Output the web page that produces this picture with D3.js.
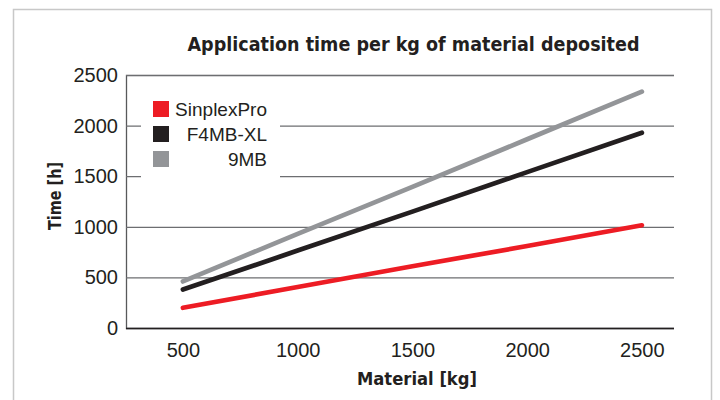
<!DOCTYPE html>
<html>
<head>
<meta charset="utf-8">
<script src="https://cdn.jsdelivr.net/npm/d3@7"></script>
<style>
	body { margin: 0; background: #fff; }
	text { font-family: "Liberation Sans", Arial, sans-serif; fill: #231f20; }
	text.heading { font-family: "DejaVu Sans", sans-serif; font-weight: bold; }
</style>
</head>
<body>
<script>
var width = 720;
var height = 400;

// data
var material = [500, 1000, 1500, 2000, 2500];
var sinplexPro = [200, 405, 610, 810, 1015];
var f4mbXl = [380, 765, 1150, 1540, 1930];
var nineMb = [460, 930, 1395, 1865, 2335];
var seriesNames = ["SinplexPro", "F4MB-XL", "9MB"];
var seriesColors = ["#ed1c24", "#231f20", "#939598"];
var xTicks = [500, 1000, 1500, 2000, 2500];
var yTicks = [0, 500, 1000, 1500, 2000, 2500];

var plot = { left: 126, right: 674, top: 75, bottom: 328 };

var x = d3.scaleLinear().domain([252, 2640]).range([plot.left, plot.right]);
var y = d3.scaleLinear().domain([0, 2500]).range([plot.bottom, plot.top]);

var svg = d3.select("body").append("svg")
	.attr("width", width).attr("height", height);

// outer frame
svg.append("rect").attr("x", 13.5).attr("y", 9.5)
	.attr("width", 698).attr("height", 400)
	.attr("fill", "none").attr("stroke", "#c8c8c8").attr("stroke-width", 1.5);

function heading(txt, size, len) {
	return svg.append("text").attr("class", "heading")
		.attr("text-anchor", "middle")
		.attr("font-size", size)
		.attr("textLength", len)
		.attr("lengthAdjust", "spacingAndGlyphs")
		.text(txt);
}

heading("Application time per kg of material deposited", 19.5, 452)
	.attr("x", 413.5).attr("y", 50.5);

// y axis with gridlines
var yAxis = d3.axisLeft(y).tickValues(yTicks).tickFormat(d3.format("d"))
	.tickSize(-(plot.right - plot.left)).tickPadding(8);
var gy = svg.append("g").attr("transform", "translate(" + plot.left + ",0)").call(yAxis);
gy.select(".domain").attr("stroke", "#58595b").attr("stroke-width", 1.3);
gy.selectAll(".tick line").attr("stroke", function(d) {
	return d === 0 ? "#231f20" : "#6d6e71";
}).attr("stroke-width", function(d) { return d === 0 ? 1.6 : 1.2; });
gy.selectAll(".tick text").attr("font-size", 20).attr("fill", "#2b2b2b");

// x axis labels only
var xAxis = d3.axisBottom(x).tickValues(xTicks).tickFormat(d3.format("d"))
	.tickSize(0).tickPadding(15);
var gx = svg.append("g").attr("transform", "translate(0," + plot.bottom + ")").call(xAxis);
gx.select(".domain").remove();
gx.selectAll(".tick text").attr("font-size", 20).attr("fill", "#2b2b2b");

heading("Material [kg]", 18.5, 120).attr("x", 417).attr("y", 385);

heading("Time [h]", 18, 68).attr("transform", "translate(61,196) rotate(-90)");

// legend
var legend = svg.append("g");
legend.append("rect").attr("x", 141).attr("y", 88)
	.attr("width", 139).attr("height", 94).attr("fill", "#fff");
seriesNames.forEach(function(name, i) {
	legend.append("rect").attr("x", 153).attr("y", 101 + i * 25)
		.attr("width", 16).attr("height", 16).attr("fill", seriesColors[i]);
	legend.append("text").attr("x", 267).attr("y", 109 + i * 25)
		.attr("dy", "0.36em").attr("text-anchor", "end")
		.attr("font-size", 19).attr("fill", "#2b2b2b").text(name);
});

// lines
var line = d3.line()
	.x(function(d) { return x(d[0]); })
	.y(function(d) { return y(d[1]); });

[sinplexPro, f4mbXl, nineMb].forEach(function(values, i) {
	svg.append("path")
		.datum(d3.zip(material, values))
		.attr("d", line)
		.attr("fill", "none")
		.attr("stroke", seriesColors[i])
		.attr("stroke-width", 4.7)
		.attr("stroke-linecap", "round");
});
</script>
</body>
</html>
